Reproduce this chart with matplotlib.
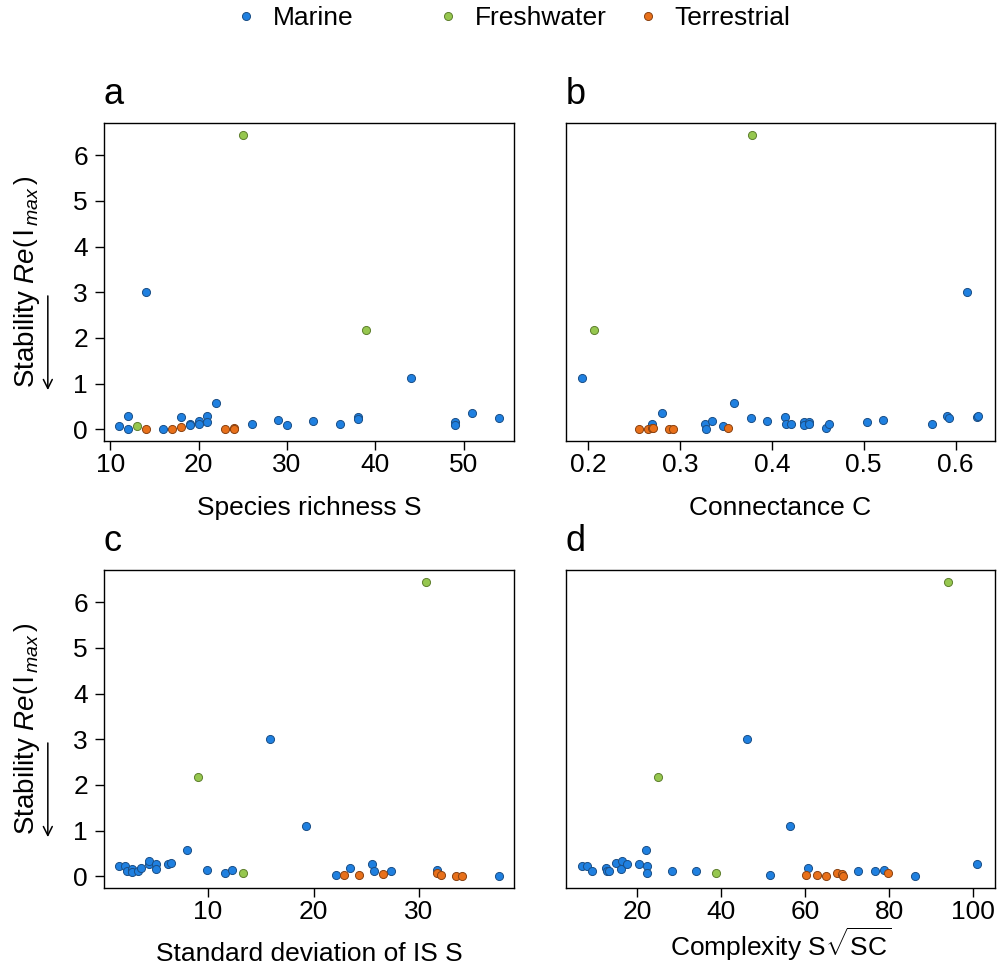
import matplotlib
matplotlib.use("Agg")
import matplotlib.pyplot as plt
from matplotlib.lines import Line2D

plt.rcParams['font.family'] = ['Liberation Sans', 'DejaVu Sans']
plt.rcParams['mathtext.fontset'] = 'custom'
plt.rcParams['mathtext.rm'] = 'Liberation Sans'
plt.rcParams['mathtext.it'] = 'Liberation Sans:italic'

# -------------------- data --------------------
# panel a: species richness S
marine_S = [11, 12, 12, 14, 16, 18, 19, 19, 20, 20, 21, 21, 22, 26, 29, 30, 33, 36, 38, 38, 44, 49, 49, 51, 54]
marine_S_stab = [0.06, 0.29, 0.01, 3.00, 0.00, 0.26, 0.12, 0.10, 0.17, 0.12, 0.29, 0.15, 0.58, 0.12, 0.21,
                 0.10, 0.17, 0.12, 0.27, 0.23, 1.11, 0.16, 0.09, 0.35, 0.24]
fresh_S = [13, 25, 39]
fresh_S_stab = [0.07, 6.45, 2.18]
terr_S = [14, 17, 18, 23, 24, 24]
terr_S_stab = [0.00, 0.00, 0.04, 0.01, 0.03, 0.01]

# panel b: connectance C
marine_C = [0.193, 0.270, 0.280, 0.327, 0.328, 0.335, 0.347, 0.359, 0.377, 0.395, 0.414, 0.415, 0.421, 0.435,
            0.435, 0.440, 0.440, 0.459, 0.462, 0.504, 0.521, 0.574, 0.591, 0.593, 0.612, 0.623, 0.625]
marine_C_stab = [1.11, 0.12, 0.35, 0.12, 0.00, 0.17, 0.06, 0.58, 0.24, 0.17, 0.27, 0.12, 0.11, 0.16,
                 0.09, 0.15, 0.12, 0.02, 0.12, 0.15, 0.21, 0.12, 0.29, 0.24, 3.00, 0.27, 0.29]
fresh_C = [0.207, 0.378]
fresh_C_stab = [2.18, 6.45]
terr_C = [0.256, 0.265, 0.270, 0.271, 0.288, 0.292, 0.352]
terr_C_stab = [0.00, 0.00, 0.02, 0.03, 0.01, 0.01, 0.03]

# panel c: standard deviation of interaction strength
marine_sd = [1.56, 2.13, 2.35, 2.83, 2.83, 3.40, 3.62, 4.43, 4.45, 5.03, 5.10, 6.24, 6.52, 7.98, 9.90, 11.6,
             12.27, 15.9, 19.3, 22.1, 23.46, 25.55, 25.74, 27.3, 31.7, 37.6]
marine_sd_stab = [0.23, 0.23, 0.12, 0.16, 0.09, 0.12, 0.18, 0.27, 0.34, 0.26, 0.16, 0.27, 0.29, 0.58, 0.13,
                  0.07, 0.13, 3.00, 1.10, 0.03, 0.18, 0.27, 0.11, 0.12, 0.13, 0.01]
fresh_sd = [9.05, 13.35, 30.7]
fresh_sd_stab = [2.18, 0.07, 6.45]
terr_sd = [22.9, 24.34, 26.6, 31.68, 32.05, 33.5, 34.1]
terr_sd_stab = [0.03, 0.03, 0.05, 0.06, 0.03, 0.01, 0.01]

# panel d: complexity
marine_cx = [6.83, 8.02, 9.29, 12.6, 12.86, 13.26, 15.0, 16.27, 16.5, 17.6, 20.55, 22.14, 22.38, 22.38, 28.3,
             34.05, 46.3, 51.7, 56.5, 60.6, 72.7, 76.6, 78.8, 86.1, 101.0]
marine_cx_stab = [0.23, 0.23, 0.12, 0.17, 0.12, 0.11, 0.28, 0.15, 0.34, 0.27, 0.26, 0.57, 0.23, 0.06, 0.12,
                  0.12, 3.00, 0.03, 1.10, 0.18, 0.11, 0.12, 0.13, 0.01, 0.26]
fresh_cx = [25.0, 38.9, 94.0]
fresh_cx_stab = [2.18, 0.06, 6.45]
terr_cx = [60.2, 62.86, 64.9, 67.6, 68.7, 69.1, 79.7]
terr_cx_stab = [0.03, 0.03, 0.01, 0.06, 0.04, 0.01, 0.06]

# -------------------- styling --------------------
fills = {'Marine': '#1f80e0', 'Freshwater': '#96c74f', 'Terrestrial': '#e8701a'}
edges = {'Marine': '#1b4f86', 'Freshwater': '#5e7f2e', 'Terrestrial': '#8a4212'}
fs = 19
ylab = r'Stability $\mathit{Re}\left(\,\mathrm{l}_{\,\mathit{max}}\,\right)$'

panels = [
    ('a', [0.1042, 0.5440, 0.4108, 0.3289], (9.3, 55.7), [10, 20, 30, 40, 50], 'Species richness S', -0.233,
     (marine_S, marine_S_stab), (fresh_S, fresh_S_stab), (terr_S, terr_S_stab), True),
    ('b', [0.5671, 0.5440, 0.4299, 0.3289], (0.176, 0.643), [0.2, 0.3, 0.4, 0.5, 0.6], 'Connectance C', -0.233,
     (marine_C, marine_C_stab), (fresh_C, fresh_C_stab), (terr_C, terr_C_stab), False),
    ('c', [0.1042, 0.0817, 0.4108, 0.3289], (0.14, 39.0), [10, 20, 30], 'Standard deviation of IS S', -0.23,
     (marine_sd, marine_sd_stab), (fresh_sd, fresh_sd_stab), (terr_sd, terr_sd_stab), True),
    ('d', [0.5671, 0.0817, 0.4299, 0.3289], (3.1, 105.2), [20, 40, 60, 80, 100],
     r'Complexity $\mathrm{S}\sqrt{\mathrm{SC}}$', -0.214,
     (marine_cx, marine_cx_stab), (fresh_cx, fresh_cx_stab), (terr_cx, terr_cx_stab), False),
]

fig = plt.figure(figsize=(9.98, 9.67), dpi=100)

for letter, rect, xlim, xticks, xlabel, xlab_y, mar, fre, ter, show_y in panels:
    ax = fig.add_axes(rect)
    for name, (xs, ys) in zip(['Marine', 'Freshwater', 'Terrestrial'], [mar, fre, ter]):
        ax.scatter(xs, ys, s=34, c=fills[name], edgecolors=edges[name], linewidths=0.7, zorder=3)
    ax.set_xlim(*xlim)
    ax.set_ylim(-0.258, 6.708)
    ax.set_xticks(xticks)
    ax.set_xticklabels([f'{t:g}' for t in xticks])
    ax.tick_params(axis='x', direction='out', length=6.5, width=1, labelsize=fs, pad=2)
    if show_y:
        ax.set_yticks(range(7))
        ax.tick_params(axis='y', direction='out', length=6.5, width=1, labelsize=fs, pad=5)
        ax.set_ylabel(ylab, fontsize=20)
        ax.yaxis.set_label_coords(-0.152, 0.5)
        ax.annotate('', xy=(-0.137, 0.16), xytext=(-0.137, 0.456), xycoords='axes fraction',
                    arrowprops=dict(arrowstyle='->', lw=1.1, color='black', mutation_scale=16,
                                    shrinkA=0, shrinkB=0))
    else:
        ax.set_yticks([])
    for sp in ax.spines.values():
        sp.set_linewidth(1)
    ax.set_xlabel(xlabel, fontsize=fs, va='baseline')
    ax.xaxis.set_label_coords(0.5, xlab_y)
    ax.text(0.0, 1.06, letter, transform=ax.transAxes, fontsize=26, ha='left', va='baseline')

# legend across the top, equal-width entries
for name, x0 in zip(['Marine', 'Freshwater', 'Terrestrial'], [0.2335, 0.436, 0.636]):
    h = Line2D([], [], ls='', marker='o', ms=5.8, mfc=fills[name], mec=edges[name], mew=0.7)
    fig.legend(handles=[h], labels=[name], loc='center left', bbox_to_anchor=(x0, 0.981),
               frameon=False, borderpad=0, borderaxespad=0, handlelength=1.0, handletextpad=0.5,
               fontsize=fs)

fig.savefig('out.png', dpi=100)
